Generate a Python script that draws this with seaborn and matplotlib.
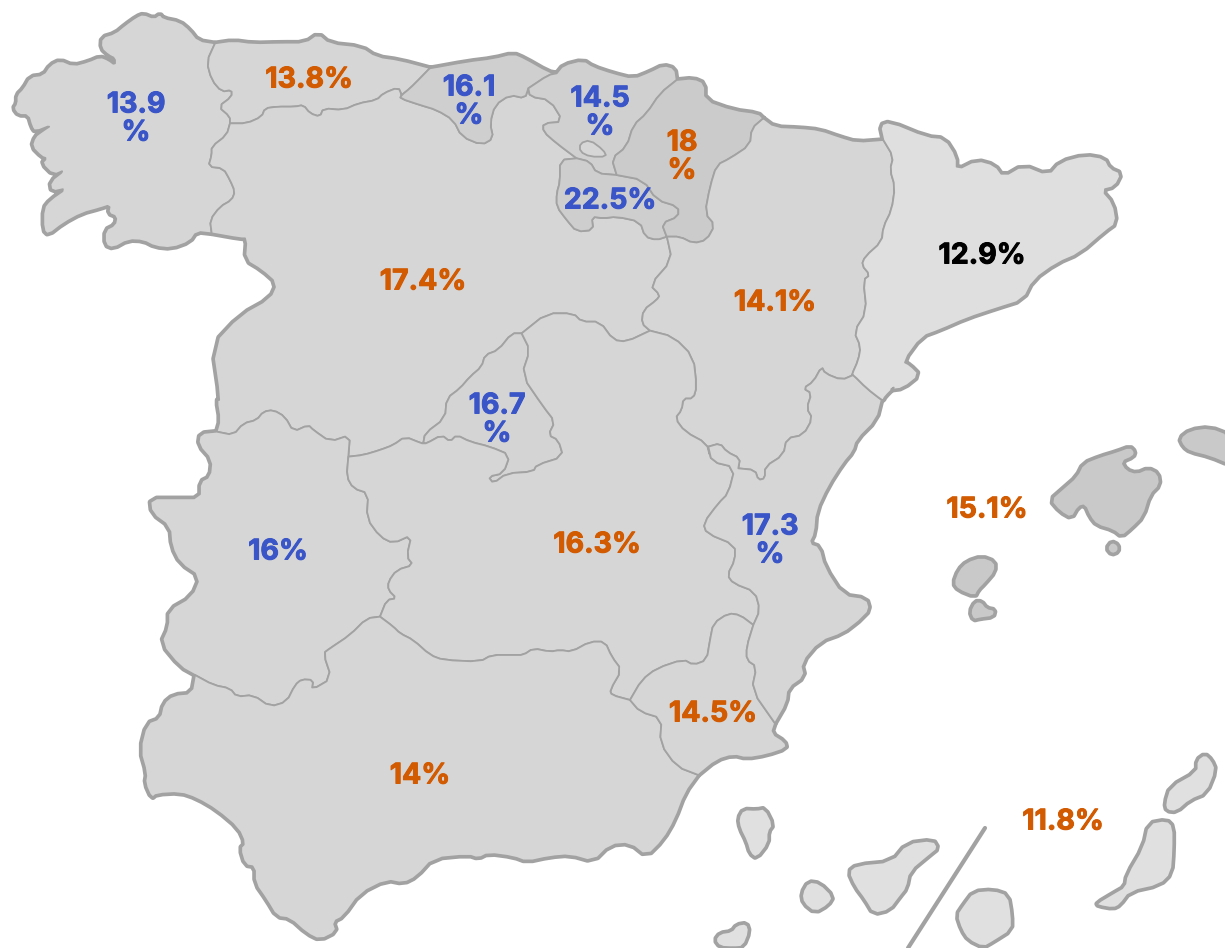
import matplotlib
matplotlib.use("Agg")
import matplotlib.pyplot as plt
import matplotlib.patheffects as pe
import seaborn as sns

sns.set_theme(style="white")
plt.rcParams['font.family'] = ['Inter', 'Open Sans', 'DejaVu Sans']

BLUE, ORANGE, BLACK = "#3a55c8", "#d25a00", "#000000"
EDGE = "#a2a2a2"


def z(ox, oy, pts):
    """Outline points traced on a crop of the map at 3x, back to map units."""
    return [(ox + x / 3, oy + y / 3) for x, y in pts]


def rev(arc):
    return arc[::-1]


def soften(pts):
    """Round the corners of a closed outline (one corner-cutting pass)."""
    out = []
    n = len(pts)
    for i in range(n):
        (x0, y0), (x1, y1) = pts[i], pts[(i + 1) % n]
        out.append((0.75 * x0 + 0.25 * x1, 0.75 * y0 + 0.25 * y1))
        out.append((0.25 * x0 + 0.75 * x1, 0.25 * y0 + 0.75 * y1))
    return out


A, B, C, D = (0, 0), (130, 400), (130, 640), (530, 600)
E, F, G, H = (640, 330), (840, 110), (410, 300), (400, 50)
I, J = (700, 740), (900, 420)

# ---------- shared border arcs ----------
gal_coast = z(*A, [(645,130),(595,122),(570,90),(540,65),(490,55),(480,42),(462,55),(430,42),(410,50),(375,75),(345,100),(305,112),(303,145),(325,165),(345,175),(345,195),(325,180),(300,170),(265,185),(220,197),(180,180),(150,195),(130,225),(90,230),(70,265),(50,285),(50,310),(40,325),(55,345),(85,345),(95,380),(105,395),(155,375),(125,395),(105,410),(95,440),(125,470),(140,475),(125,490),(160,525),(195,510),(150,545),(155,575),(200,565),(150,600),(130,625),(130,690),(145,705),(190,670),(245,640),(300,625),(330,615),(325,640),(350,650),(345,675),(315,690),(315,735),(340,745),(385,720),(430,722),(465,740),(515,745),(570,725),(590,695),(635,700)])
gal_ast = z(*A, [(645,130),(620,185),(635,240),(665,275),(695,270),(695,290),(655,320),(690,350),(690,370)])
gal_cyl = z(*A, [(690,370),(680,405),(635,440),(635,465),(625,500),(670,505),(690,540),(705,575),(695,600),(660,620),(630,660),(635,700)])
ast_coast = z(*A, [(645,130),(700,122),(760,130),(840,128),(915,128),(955,100),(990,130),(1085,140),(1130,170),(1200,180),(1290,204)])
ast_can = z(*A, [(1205,285),(1230,265),(1260,235),(1290,204)])
ast_cyl = z(*A, [(690,370),(740,370),(785,350),(795,325),(830,320),(885,320),(910,315),(930,340),(960,350),(970,325),(1030,330),(1075,310),(1130,300),(1150,280),(1195,262),(1205,285)])
can_coast = z(*H, [(90,55),(200,35),(280,25),(340,10),(375,25),(445,65),(470,70)])
can_bas = z(*H, [(470,70),(445,75),(385,115)])
can_cyl = z(*H, [(0,145),(60,165),(110,180),(160,210),(185,260),(245,285),(280,265),(270,220),(285,165),(330,135),(375,145),(385,115)])
bas_coast = z(*H, [(470,70),(490,45),(550,30),(580,50),(640,70),(700,85),(750,65),(790,45),(825,55),(830,90)])
bas_nav = z(*H, [(830,90),(780,130),(740,190),(700,225),(680,290),(635,325),(650,375)])
bas_rio = z(*H, [(650,375),(590,370),(570,335),(530,325)])
bas_cyl = z(*H, [(530,325),(470,280),(430,245),(430,220),(490,215),(450,150),(390,140),(385,115)])
rio_west = z(*H, [(530,325),(480,330),(480,395),(470,430),(470,470),(500,510),(530,545),(580,540),(575,500),(610,505),(650,500),(720,515),(735,560),(770,570),(800,560)])
rio_nav = z(*H, [(650,375),(730,390),(770,450),(835,470),(835,500),(785,520),(800,560)])
nav_coast = z(*H, [(830,90),(880,85),(915,100),(915,150),(1000,180),(1075,190),(1090,205)])
nav_ara = z(*H, [(1090,205),(1055,235),(1050,285),(990,325),(950,345),(930,410),(915,490),(945,525),(920,570),(880,580),(840,560),(800,560)])
ara_top = [(763,118),(775,127),(800,128),(820,130),(840,137),(857,142),(883,140)]
ara_cat = z(*F, [(35,795),(55,750),(62,710),(42,665),(80,605),(70,510),(90,495),(65,465),(75,440),(125,395),(130,350),(155,300),(165,230),(150,180),(160,140),(130,90)])
ara_val = z(*E, [(295,415),(345,420),(355,450),(375,445),(375,410),(430,375),(440,325),(490,315),(518,265),(500,235),(515,190),(490,175),(520,155),(545,110),(555,130),(605,150),(640,135)])
rincon = z(*E, [(205,350),(240,340),(260,365),(300,385),(295,415)])
cyl_ara = [(667,237),(672,260),(650,285),(660,295)] + z(*G, [(740,0),(700,30),(695,70),(720,92)])
ara_clm = z(*G, [(720,92),(790,110),(850,170),(860,260),(850,295),(820,295),(815,330),(795,355),(825,395),(890,430),(900,470)]) + z(*E, [(205,350)])
cat_coast = z(*F, [(130,90),(120,45),(150,35),(260,80),(315,85),(350,140),(350,180),(410,150),(465,165),(490,200),(550,165),(625,195),(660,155),(735,135),(795,145),(810,175),(845,190),(825,230),(785,240),(820,280),(830,340),(795,365),(720,430),(650,460),(580,510),(550,570),(470,595),(380,625),(300,660),(245,680),(190,755),(210,765),(240,795),(190,835),(150,840),(165,830),(135,860),(130,870)])
val_cat = z(*E, [(725,210),(680,175),(640,135)])
val_coast = z(*E, [(725,210),(710,270),(650,330),(640,365),(610,400),(565,470),(530,545),(525,610),(510,640),(540,650),(555,710),(610,795),(680,805),(690,840),(660,870)]) + z(*D, [(985,65),(940,100),(870,125),(815,190),(825,230),(775,265),(770,310),(735,370)])
val_mur = z(*D, [(735,370),(665,270),(680,200),(650,180),(650,140),(670,75)])
val_clm = z(*E, [(205,350),(215,395),(285,412),(265,490),(235,520),(190,580),(200,610),(285,645),(285,690),(262,735),(280,760),(345,785),(360,840)]) + z(*D, [(670,75)])
mur_clm = z(*D, [(670,75),(630,45),(595,40),(550,70),(540,120),(530,180),(490,195),(460,178),(380,205),(335,240),(300,300)])
mur_and = z(*D, [(300,300),(330,335),(395,355),(390,430),(440,500),(505,525)])
mur_coast = z(*D, [(505,525),(560,480),(610,465),(650,475),(710,465),(770,445),(765,425),(725,400),(735,370)])
and_coast = z(*D, [(505,525),(465,580),(435,660),(400,720),(350,770),(300,730),(240,735),(190,785),(120,765),(60,770)]) + z(*C, [(1190,665),(1150,650),(1075,640),(1045,655),(1015,645),(910,655),(860,710),(820,730),(770,720),(690,760),(640,830),(610,845),(620,875),(570,900),(530,880),(480,835),(440,830),(410,780),(375,730),(375,680),(345,675),(330,625),(345,610),(325,565),(260,510),(200,475),(150,458),(80,462),(65,475),(45,430),(50,400),(30,330),(50,250),(90,235),(100,190),(130,165),(185,160),(195,105)])
and_ext = z(*B, [(195,825),(250,855),(300,865),(320,890),(370,885),(420,920),(470,905),(495,855),(515,838),(550,840),(545,870),(605,835),(580,760),(600,745),(660,705),(710,655),(750,650)])
and_clm = z(*B, [(750,650),(790,680),(810,700),(850,720),(900,765),(940,780),(1050,785),(1085,765),(1150,765),(1180,765),(1210,745)]) + z(*D, [(60,155),(90,150),(125,155),(180,125),(225,125),(245,170),(275,210),(240,270),(245,285),(300,300)])
ext_clm = z(*B, [(750,650),(770,600),(800,595),(775,570),(775,545),(800,510),(850,495),(830,470),(845,405),(790,430),(750,410),(710,355),(715,280),(670,265),(650,230),(655,170)])
ext_cyl = z(*B, [(655,170),(660,105),(600,125),(550,90),(535,75),(490,95),(465,50),(430,30),(400,35),(380,60),(340,70),(310,105),(260,95)])
ext_coast = z(*B, [(260,95),(210,100),(205,135),(245,180),(240,230),(210,245),(210,295),(140,295),(60,295),(65,340),(120,380),(125,440),(150,490),(210,530),(185,590),(115,630),(115,680),(92,730),(150,800),(195,825)])
cyl_coast = z(*A, [(635,700),(720,715),(740,715),(735,780),(785,810),(830,850),(810,895)]) + [(240,315),(212,345),(220,400)] + z(*B, [(260,0),(270,60),(260,95)])
cyl_clm_w = z(*B, [(655,170),(700,165),(750,150),(790,135),(825,110),(875,130)])
cyl_mad = z(*G, [(40,430),(45,400),(105,355),(110,295),(150,265),(180,230),(215,200),(225,165),(265,150),(305,100),(335,100)])
cyl_clm_n = z(*G, [(335,100),(410,40),(490,40),(515,65),(570,65),(610,120),(650,125),(720,92)])
mad_clm = z(*G, [(335,100),(360,150),(335,225),(400,320),(435,365),(415,405),(445,420),(460,470),(380,495),(370,515),(290,520),(250,550),(235,530),(280,520),(300,465),(240,440),(180,425),(140,405),(120,425),(95,405),(50,430),(40,430)])

# ---------- regions ----------
galicia = gal_coast + rev(gal_cyl) + rev(gal_ast)
asturias = ast_coast + rev(ast_can) + rev(ast_cyl) + rev(gal_ast)
cantabria = can_coast + can_bas + rev(can_cyl) + ast_can
basque = bas_coast + bas_nav + bas_rio + bas_cyl + rev(can_bas)
trevino = z(*H, [(540,280),(570,270),(610,300),(620,320),(570,320),(540,305)])
rioja = rio_west + rev(rio_nav) + bas_rio
navarra = nav_coast + nav_ara + rev(rio_nav) + rev(bas_nav)
aragon = ara_top + rev(ara_cat) + rev(ara_val) + rev(rincon) + rev(ara_clm) + rev(cyl_ara) + rev(nav_ara)
castilla_leon = cyl_coast + rev(ext_cyl) + cyl_clm_w + cyl_mad + cyl_clm_n + rev(cyl_ara) + rev(rio_west) + bas_cyl + rev(can_cyl) + rev(ast_cyl) + gal_cyl
madrid = cyl_mad + mad_clm
extremadura = ext_coast + and_ext + ext_clm + ext_cyl
cl_mancha = cyl_clm_w + rev(mad_clm) + cyl_clm_n + ara_clm + val_clm + mur_clm + rev(and_clm) + ext_clm
andalucia = and_coast + and_ext + and_clm + mur_and
murcia = mur_coast + val_mur + mur_clm + mur_and
valencia = val_coast + val_mur + rev(val_clm) + rincon + ara_val + rev(val_cat)
cataluna = cat_coast + val_cat + ara_cat
mallorca = z(*J, [(450,240),(490,205),(530,170),(550,130),(600,110),(650,95),(690,80),(705,95),(700,110),(665,125),(680,150),(710,160),(745,145),(775,160),(780,195),(750,225),(730,290),(695,325),(665,350),(640,330),(590,315),(570,290),(555,255),(535,260),(515,295),(480,275)])
menorca = z(*J, [(838,55),(870,30),(930,22),(990,45),(990,135),(930,110),(870,95),(850,80)])
cabrera = z(*J, [(620,385),(635,365),(655,375),(655,395),(635,403)])
ibiza = z(*J, [(160,490),(175,450),(200,425),(245,410),(285,425),(285,455),(255,490),(235,510),(225,530),(175,510)])
formentera = z(*J, [(210,575),(225,545),(245,545),(260,565),(285,570),(280,590),(240,595),(220,600)])
la_palma = z(*I, [(115,235),(130,208),(170,210),(195,205),(220,255),(205,275),(205,310),(170,355),(150,340),(140,305),(120,265)])
tenerife = z(*I, [(445,395),(470,375),(575,365),(620,310),(700,300),(715,325),(690,345),(630,395),(620,445),(600,470),(570,510),(520,522),(495,480),(465,440)])
gomera = z(*I, [(305,460),(325,425),(360,430),(400,470),(385,495),(345,518),(310,490)])
hierro = z(*I, [(45,600),(60,580),(95,575),(110,555),(140,550),(148,575),(130,620),(100,622),(60,620)])
gran_canaria = z(*I, [(770,525),(790,495),(820,455),(880,450),(925,465),(935,525),(935,570),(880,605),(850,622),(805,600),(785,570)])
fuerteventura = z(*I, [(1190,490),(1240,460),(1275,440),(1280,405),(1330,320),(1345,250),(1400,240),(1420,260),(1420,330),(1415,400),(1380,435),(1290,455),(1260,495),(1240,505),(1195,497)])
lanzarote = z(*I, [(1395,190),(1410,140),(1490,95),(1490,60),(1515,42),(1535,60),(1548,90),(1520,160),(1470,180),(1430,215),(1400,212)])
divider_x = [985, 908]
divider_y = [828, 948]

shapes = [
    (galicia, "#d6d6d6"), (asturias, "#d6d6d6"), (castilla_leon, "#d6d6d6"), (cantabria, "#cfcfcf"),
    (basque, "#d0d0d0"), (trevino, "#d6d6d6"), (rioja, "#cecece"), (navarra, "#cbcbcb"), (aragon, "#d6d6d6"),
    (madrid, "#d4d4d4"), (extremadura, "#d6d6d6"), (cl_mancha, "#d6d6d6"), (andalucia, "#d6d6d6"),
    (murcia, "#d6d6d6"), (valencia, "#d6d6d6"), (cataluna, "#dfdfdf"), (mallorca, "#c9c9c9"), (menorca, "#c9c9c9"),
    (cabrera, "#c9c9c9"), (ibiza, "#c9c9c9"), (formentera, "#c9c9c9"), (la_palma, "#e0e0e0"), (tenerife, "#e0e0e0"),
    (gomera, "#e0e0e0"), (hierro, "#e0e0e0"), (gran_canaria, "#e0e0e0"), (fuerteventura, "#e0e0e0"), (lanzarote, "#e0e0e0"),
]

label_text = ["13.9\n%", "13.8%", "16.1\n%", "14.5\n%", "18\n%", "22.5%", "17.4%", "14.1%", "12.9%", "16.7\n%",
              "16%", "16.3%", "17.3\n%", "15.1%", "14.5%", "14%", "11.8%"]
label_x = [136, 309, 469, 600, 682, 610, 423, 775, 982, 497, 278, 597, 770, 987, 713, 420, 1063]
label_y = [119, 80, 102, 113, 157, 201, 282, 303, 256, 420, 552, 545, 541, 510, 714, 776, 822]
label_color = [BLUE, ORANGE, BLUE, BLUE, ORANGE, BLUE, ORANGE, ORANGE, BLACK, BLUE, BLUE, ORANGE, BLUE, ORANGE, ORANGE, ORANGE, ORANGE]

fig = plt.figure(figsize=(12.25, 9.48), dpi=100, facecolor="white")
ax = fig.add_axes([0, 0, 1, 1])
ax.set_xlim(0, 1225)
ax.set_ylim(948, 0)
ax.axis("off")

# coast halo: thick stroke first, then regions refilled with thin borders on top
for pts, col in shapes:
    ax.fill(*zip(*soften(pts)), facecolor=EDGE, edgecolor=EDGE, lw=4.0, joinstyle="round", zorder=1)
for pts, col in shapes:
    ax.fill(*zip(*soften(pts)), facecolor=col, edgecolor=EDGE, lw=1.3, joinstyle="round", zorder=2)

sns.lineplot(x=divider_x, y=divider_y, ax=ax, color=EDGE, lw=3, sort=False, estimator=None, legend=False, zorder=2)

for t, x, y, c in zip(label_text, label_x, label_y, label_color):
    ax.text(x, y, t, color=c, fontsize=20.5, fontweight="bold", ha="center", va="center",
            linespacing=1.05, zorder=5,
            path_effects=[pe.withStroke(linewidth=0.7, foreground=c)])

fig.savefig("out.png", dpi=100)
